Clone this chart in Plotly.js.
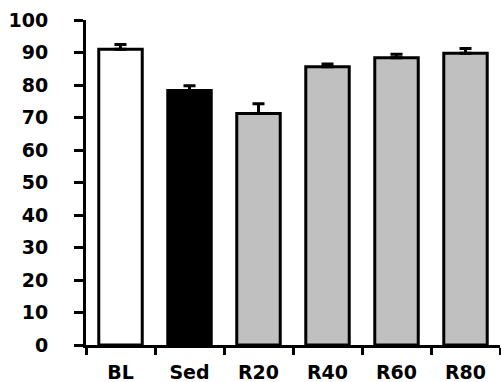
<!DOCTYPE html>
<html>
<head>
<meta charset="utf-8">
<script src="https://cdn.plot.ly/plotly-3.0.1.min.js"></script>
<style>html,body{margin:0;padding:0;background:#fff;}#chart{width:501px;height:382px;}</style>
</head>
<body>
<div id="chart"></div>
<script>
const categories = ["BL", "Sed", "R20", "R40", "R60", "R80"];
const values = [91.0, 78.3, 71.2, 85.6, 88.4, 89.8];
const errors = [1.5, 1.5, 3.0, 0.9, 1.1, 1.4];
const barColors = ["#ffffff", "#000000", "#c0c0c0", "#c0c0c0", "#c0c0c0", "#c0c0c0"];
const yTicks = [0, 10, 20, 30, 40, 50, 60, 70, 80, 90, 100];

const font = {family: "DejaVu Sans", size: 19, color: "#000", weight: "bold"};

Plotly.newPlot("chart", [{
  type: "bar",
  x: categories,
  y: values,
  marker: {color: barColors, line: {color: "#000", width: 3}},
  error_y: {type: "data", array: errors, arrayminus: errors.map(() => 0), symmetric: false,
            color: "#000", thickness: 3, width: 6},
  hoverinfo: "none"
}], {
  width: 501, height: 382,
  margin: {l: 86, r: 1, t: 20, b: 37},
  paper_bgcolor: "#fff", plot_bgcolor: "#fff",
  showlegend: false,
  bargap: 0.37,
  font: font,
  xaxis: {
    type: "category",
    range: [-0.5, 5.5],
    showline: true, linecolor: "#000", linewidth: 3,
    ticks: "outside", tickson: "boundaries", ticklen: 7, tickwidth: 3, tickcolor: "#000",
    showgrid: false, zeroline: false,
    tickfont: font,
    ticklabelstandoff: 8
  },
  yaxis: {
    range: [0, 100],
    tickvals: yTicks,
    showline: true, linecolor: "#000", linewidth: 3,
    ticks: "outside", ticklen: 9, tickwidth: 3, tickcolor: "#000",
    showgrid: false, zeroline: false,
    tickfont: font,
    ticklabelstandoff: 22
  }
}, {staticPlot: true});
</script>
</body>
</html>
